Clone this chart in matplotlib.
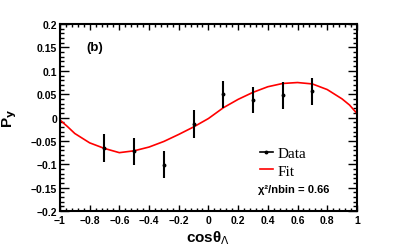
import matplotlib
matplotlib.use("Agg")
import matplotlib.pyplot as plt
from matplotlib.lines import Line2D
from matplotlib.ticker import MultipleLocator

# measured points
cos_theta = [-0.7, -0.5, -0.3, -0.1, 0.1, 0.3, 0.5, 0.7]
py = [-0.066, -0.072, -0.101, -0.014, 0.050, 0.037, 0.048, 0.056]
py_err = [0.030, 0.029, 0.029, 0.030, 0.029, 0.028, 0.029, 0.028]

# fit curve
fit_x = [-1.0, -0.95, -0.9, -0.8, -0.7, -0.6, -0.5, -0.4, -0.3, -0.2, -0.1,
         0.0, 0.1, 0.2, 0.3, 0.4, 0.5, 0.6, 0.7, 0.8, 0.9, 0.95, 1.0]
fit_y = [-0.005, -0.019, -0.034, -0.054, -0.066, -0.075, -0.071, -0.063, -0.051,
         -0.036, -0.020, -0.002, 0.021, 0.039, 0.054, 0.066, 0.073, 0.075, 0.072,
         0.060, 0.040, 0.027, 0.009]

xticks = [-1, -0.8, -0.6, -0.4, -0.2, 0, 0.2, 0.4, 0.6, 0.8, 1]
xlabels = ["\u22121", "\u22120.8", "\u22120.6", "\u22120.4", "\u22120.2", "0",
           "0.2", "0.4", "0.6", "0.8", "1"]
yticks = [-0.2, -0.15, -0.1, -0.05, 0, 0.05, 0.1, 0.15, 0.2]
ylabels = ["\u22120.2", "\u22120.15", "\u22120.1", "\u22120.05", "0",
           "0.05", "0.1", "0.15", "0.2"]

sans = "Liberation Sans"
serif = "Liberation Serif"

fig = plt.figure(figsize=(3.97, 2.51), dpi=100)
ax = fig.add_axes([0.151, 0.155, 0.748, 0.745])

ax.plot(fit_x, fit_y, color="red", lw=1.2, zorder=2)
ax.errorbar(cos_theta, py, yerr=py_err, fmt="o", color="black", ms=1.8,
            elinewidth=1.5, capsize=0, zorder=3)

ax.set_xlim(-1, 1)
ax.set_ylim(-0.2, 0.2)
ax.set_xticks(xticks)
ax.set_xticklabels(xlabels)
ax.set_yticks(yticks)
ax.set_yticklabels(ylabels)
ax.xaxis.set_minor_locator(MultipleLocator(0.04))
ax.yaxis.set_minor_locator(MultipleLocator(0.01))

for lab in ax.get_xticklabels() + ax.get_yticklabels():
    lab.set_fontfamily(sans)
    lab.set_fontweight("bold")
    lab.set_fontsize(7.5)

ax.tick_params(axis="both", which="both", direction="in", top=True, right=True,
               width=1.0)
ax.tick_params(axis="x", which="major", length=4, pad=3)
ax.tick_params(axis="x", which="minor", length=2)
ax.tick_params(axis="y", which="major", length=6.5, pad=2)
ax.tick_params(axis="y", which="minor", length=3.2)
for s in ax.spines.values():
    s.set_linewidth(1.5)

ax.set_xlabel("cos\u03b8$_{\\Lambda}$", fontfamily=sans, fontweight="bold",
              fontsize=11, labelpad=2)
ax.set_ylabel("P$_{\\mathbf{y}}$", fontfamily=sans, fontweight="bold",
              fontsize=11)
ax.yaxis.set_label_coords(-0.138, 0.5)

ax.text(-0.82, 0.15, "(b)", fontfamily=sans, fontweight="bold", fontsize=9.5,
        va="center", ha="left")

handles = [Line2D([0], [0], color="black", lw=1.2, marker="o", ms=1.8),
           Line2D([0], [0], color="red", lw=1.2)]
ax.legend(handles, ["Data", "Fit"], loc="upper left",
          bbox_to_anchor=(0.672, 0.345), frameon=False,
          prop={"family": serif, "size": 11}, handlelength=0.9,
          handletextpad=0.3, labelspacing=0.25, borderpad=0, borderaxespad=0)

ax.text(0.335, -0.153, "\u03c7\u00b2/nbin = 0.66", fontfamily=sans,
        fontweight="bold", fontsize=8, va="center", ha="left")

fig.savefig("out.png", dpi=100)
